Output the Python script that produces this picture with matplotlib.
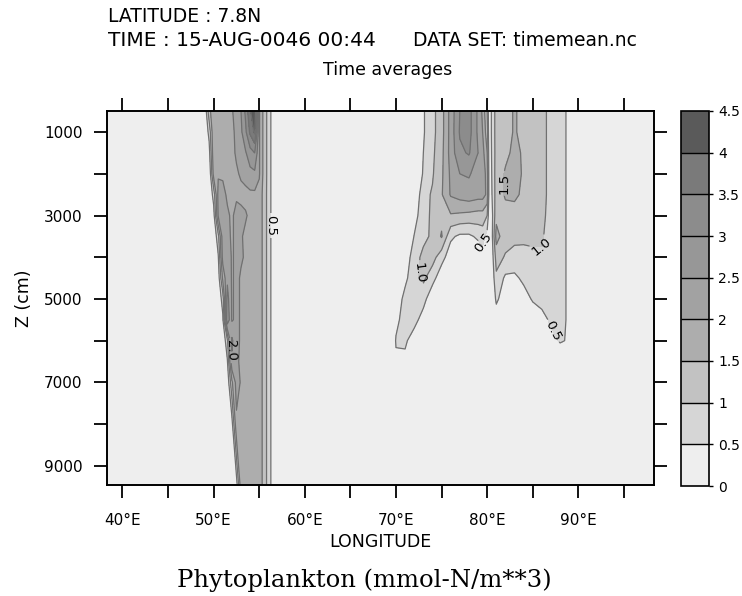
import numpy as np
import matplotlib
matplotlib.use("Agg")
import matplotlib.pyplot as plt
import matplotlib.ticker as mticker

# Depth levels (cm), shared by both longitude sections
depth = [500, 1000, 1500, 2000, 2500, 3000, 3500, 4000,
         4500, 5000, 5500, 6000, 6500, 7000, 8000, 9500]

# Western section: longitudes (deg E) and phytoplankton (mmol-N/m**3)
lon_west = [48.5, 49.0, 49.5, 50.0, 50.5, 51.0, 51.5, 52.0, 52.5,
            53.0, 53.5, 54.0, 54.5, 55.0, 55.5, 56.0, 56.5, 57.0]
phyto_west = [
    [0, 0, 1.3, 1.95, 1.9, 1.9, 1.9, 1.95, 2.2, 2.5, 3.1, 3.95, 4.4, 2.05, 1.35, 0.8, 0.25, 0],
    [0, 0, 0.65, 1.95, 1.9, 1.9, 1.9, 1.9, 2.1, 2.4, 2.9, 3.6, 4.1, 2.05, 1.35, 0.8, 0.25, 0],
    [0, 0, 0.3, 1.9, 1.95, 1.9, 1.9, 1.9, 2.05, 2.2, 2.45, 2.8, 3.0, 2.05, 1.35, 0.8, 0.25, 0],
    [0, 0, 0, 1.7, 1.95, 1.95, 1.9, 1.9, 1.95, 2.05, 2.2, 2.35, 2.4, 2.05, 1.35, 0.8, 0.25, 0],
    [0, 0, 0, 0.7, 2.15, 2.1, 1.95, 1.9, 1.95, 1.9, 1.85, 1.9, 1.9, 1.85, 1.3, 0.8, 0.25, 0],
    [0, 0, 0, 0.3, 2.05, 2.2, 2.05, 1.95, 2.1, 2.1, 2.05, 1.9, 1.9, 1.85, 1.3, 0.8, 0.25, 0],
    [0, 0, 0, 0, 0.85, 2.3, 2.1, 1.95, 2.1, 2.05, 1.9, 1.9, 1.9, 1.85, 1.3, 0.8, 0.25, 0],
    [0, 0, 0, 0, 0.45, 2.2, 2.3, 1.95, 2.1, 2.05, 1.95, 1.9, 1.9, 1.85, 1.3, 0.8, 0.25, 0],
    [0, 0, 0, 0, 0.2, 1.6, 2.4, 1.95, 2.1, 1.95, 1.9, 1.9, 1.9, 1.85, 1.3, 0.8, 0.25, 0],
    [0, 0, 0, 0, 0, 0.75, 2.7, 1.95, 2.1, 1.95, 1.9, 1.9, 1.9, 1.85, 1.3, 0.8, 0.25, 0],
    [0, 0, 0, 0, 0, 0.4, 2.9, 1.95, 2.1, 1.95, 1.9, 1.9, 1.9, 1.85, 1.3, 0.8, 0.25, 0],
    [0, 0, 0, 0, 0, 0, 0.9, 2.6, 2.1, 1.95, 1.9, 1.9, 1.9, 1.85, 1.3, 0.8, 0.25, 0],
    [0, 0, 0, 0, 0, 0, 0.45, 2.4, 2.05, 1.95, 1.9, 1.9, 1.9, 1.85, 1.3, 0.8, 0.25, 0],
    [0, 0, 0, 0, 0, 0, 0.1, 1.4, 2.2, 1.95, 1.9, 1.9, 1.9, 1.85, 1.3, 0.8, 0.25, 0],
    [0, 0, 0, 0, 0, 0, 0, 0.3, 1.9, 1.95, 1.9, 1.9, 1.9, 1.85, 1.3, 0.8, 0.25, 0],
    [0, 0, 0, 0, 0, 0, 0, 0, 0.2, 1.8, 1.9, 1.9, 1.9, 1.85, 1.3, 0.8, 0.25, 0],
]

# Eastern section: longitudes (deg E) and phytoplankton (mmol-N/m**3)
lon_east = [69.5, 70.0, 71.0, 72.0, 73.0, 74.0, 75.0, 76.0, 77.0, 78.0, 79.0, 79.5,
            80.0, 80.25, 80.5, 81.0, 82.0, 83.0, 84.0, 85.0, 86.0, 87.0, 88.0, 88.5, 89.0]
phyto_east = [
    [0, 0, 0, 0, 0.45, 0.85, 1.3, 2.2, 3.0, 3.2, 2.4, 1.9, 1.0, 0, 0.6, 1.2, 1.3, 1.55, 1.35, 1.2, 1.1, 0.9, 0.75, 0.7, 0],
    [0, 0, 0, 0, 0.45, 0.85, 1.3, 2.2, 3.05, 3.2, 2.4, 2.0, 1.2, 0, 0.6, 1.2, 1.3, 1.55, 1.35, 1.2, 1.1, 0.9, 0.75, 0.7, 0],
    [0, 0, 0, 0, 0.5, 0.9, 1.35, 2.2, 2.9, 3.05, 2.5, 2.2, 1.5, 0, 0.55, 1.2, 1.4, 1.6, 1.45, 1.2, 1.1, 0.9, 0.75, 0.7, 0],
    [0, 0, 0, 0, 0.55, 0.95, 1.4, 2.1, 2.5, 2.55, 2.3, 2.3, 1.8, 0, 0.5, 1.25, 1.55, 1.65, 1.45, 1.2, 1.1, 0.9, 0.75, 0.7, 0],
    [0, 0, 0, 0, 0.85, 1.05, 1.45, 2.05, 2.2, 2.3, 2.2, 2.2, 1.9, 0, 0.45, 1.25, 1.55, 1.6, 1.4, 1.2, 1.1, 0.9, 0.75, 0.7, 0],
    [0, 0, 0, 0.3, 0.8, 1.1, 1.35, 1.45, 1.4, 1.35, 1.3, 1.3, 1.0, 0, 0.3, 1.35, 1.35, 1.3, 1.25, 1.2, 1.1, 0.85, 0.7, 0.7, 0],
    [0, 0, 0, 0.52, 0.85, 1.1, 1.55, 0.6, 0.4, 0.4, 0.6, 0.7, 0.3, 0, 0.3, 1.7, 1.2, 1.15, 1.1, 1.1, 1.05, 0.8, 0.7, 0.7, 0],
    [0, 0, 0.2, 0.75, 1.15, 1.2, 0.7, 0.2, 0, 0, 0.1, 0.3, 0.1, 0, 0.2, 1.2, 0.95, 0.8, 0.85, 0.9, 0.95, 0.8, 0.7, 0.7, 0],
    [0, 0, 0.35, 0.9, 1.1, 0.7, 0.15, 0, 0, 0, 0, 0, 0, 0, 0.1, 0.9, 0.4, 0.4, 0.6, 0.7, 0.75, 0.75, 0.7, 0.7, 0],
    [0, 0.1, 0.7, 0.95, 0.7, 0.1, 0, 0, 0, 0, 0, 0, 0, 0, 0, 0.6, 0.2, 0.1, 0.3, 0.55, 0.7, 0.75, 0.7, 0.7, 0],
    [0, 0.35, 0.75, 0.7, 0.25, 0, 0, 0, 0, 0, 0, 0, 0, 0, 0, 0.2, 0, 0, 0.1, 0.2, 0.3, 0.6, 0.7, 0.7, 0],
    [0, 0.55, 0.6, 0.2, 0, 0, 0, 0, 0, 0, 0, 0, 0, 0, 0, 0, 0, 0, 0, 0, 0, 0.3, 0.55, 0.5, 0],
    [0, 0.4, 0.35, 0, 0, 0, 0, 0, 0, 0, 0, 0, 0, 0, 0, 0, 0, 0, 0, 0, 0, 0, 0.1, 0.1, 0],
    [0] * 25,
    [0] * 25,
    [0] * 25,
]

# Contour levels and grey shades for each band
levels = [0, 0.5, 1.0, 1.5, 2.0, 2.5, 3.0, 3.5, 4.0, 4.5]
band_colors = ["#eeeeee", "#d6d6d6", "#c2c2c2", "#adadad", "#a2a2a2",
               "#979797", "#8c8c8c", "#7a7a7a", "#5a5a5a"]

x_ticks = [40, 45, 50, 55, 60, 65, 70, 75, 80, 85, 90, 95]
y_ticks = [1000, 2000, 3000, 4000, 5000, 6000, 7000, 8000, 9000]

# Assemble one rectilinear grid (zero phytoplankton outside both sections)
lon_all = np.array([38.25] + lon_west + [63.0] + lon_east + [98.25])
zcol = np.zeros((len(depth), 1))
field = np.hstack([zcol, np.array(phyto_west), zcol, np.array(phyto_east), zcol])
dep = np.array(depth, dtype=float)

fig = plt.figure(figsize=(7.42, 5.96), dpi=100)
ax = fig.add_axes([107 / 742, 1 - 485 / 596, 547 / 742, 374 / 596])

cf = ax.contourf(lon_all, dep, field, levels=levels, colors=band_colors)

ax.set_xlim(38.3, 98.3)
ax.set_ylim(9460, 495)

# Contour lines, one set per level so each can carry its own labels
label_spots = {
    0.5: [(56.3, 3240), (79.75, 3640), (87.3, 5760)],
    1.0: [(72.75, 4370), (86.3, 3840)],
    1.5: [(82.4, 2230)],
    2.0: [(51.8, 6240)],
}
for lev in levels[1:-1]:
    cs = ax.contour(lon_all, dep, field, levels=[lev],
                    colors="#707070", linewidths=0.9)
    if lev in label_spots:
        ax.clabel(cs, manual=label_spots[lev], fmt="%.1f", fontsize=9.5,
                  inline=True, inline_spacing=2, colors="black")

# Axes, ticks and labels
for sp in ax.spines.values():
    sp.set_linewidth(1.4)
ax.xaxis.set_major_locator(mticker.FixedLocator(x_ticks))
ax.xaxis.set_major_formatter(mticker.FuncFormatter(
    lambda v, p: f"{int(round(v))}°E" if int(round(v)) % 10 == 0 else ""))
ax.yaxis.set_major_locator(mticker.FixedLocator(y_ticks))
ax.yaxis.set_major_formatter(mticker.FuncFormatter(
    lambda v, p: f"{int(round(v))}" if int(round(v)) % 2000 == 1000 else ""))
ax.tick_params(axis="both", which="major", direction="out", length=9.5, width=1.3,
               top=True, right=True, labelsize=11, colors="black")
ax.tick_params(axis="x", pad=11)
ax.tick_params(axis="y", pad=8)

ax.set_xlabel("LONGITUDE", fontsize=12.5, labelpad=3)
ax.set_ylabel("Z (cm)", fontsize=12.5, labelpad=8)

# Header text
fig.text(108 / 742, 1 - 16 / 596, "LATITUDE : 7.8N", fontsize=13.5, va="center", ha="left")
fig.text(108 / 742, 1 - 41 / 596, "TIME : 15-AUG-0046 00:44", fontsize=14.5, va="center", ha="left")
fig.text(413 / 742, 1 - 41 / 596, "DATA SET: timemean.nc", fontsize=13.5, va="center", ha="left")
fig.text(388 / 742, 1 - 70 / 596, "Time averages", fontsize=12.5, va="center", ha="center")
fig.text(364 / 742, 1 - 580 / 596, "Phytoplankton (mmol-N/m**3)", fontsize=17.5,
         family="DejaVu Serif", va="center", ha="center")

# Colour bar
cax = fig.add_axes([681 / 742, 1 - 486 / 596, 28 / 742, 375 / 596])
cb = fig.colorbar(cf, cax=cax, ticks=levels, drawedges=True)
cb.ax.set_yticklabels([f"{v:g}" for v in levels])
cb.ax.tick_params(labelsize=10, length=3, width=1, direction="out")
cb.outline.set_linewidth(1.2)
cb.dividers.set_color("black")
cb.dividers.set_linewidth(1.0)

fig.savefig("out.png", dpi=100)
